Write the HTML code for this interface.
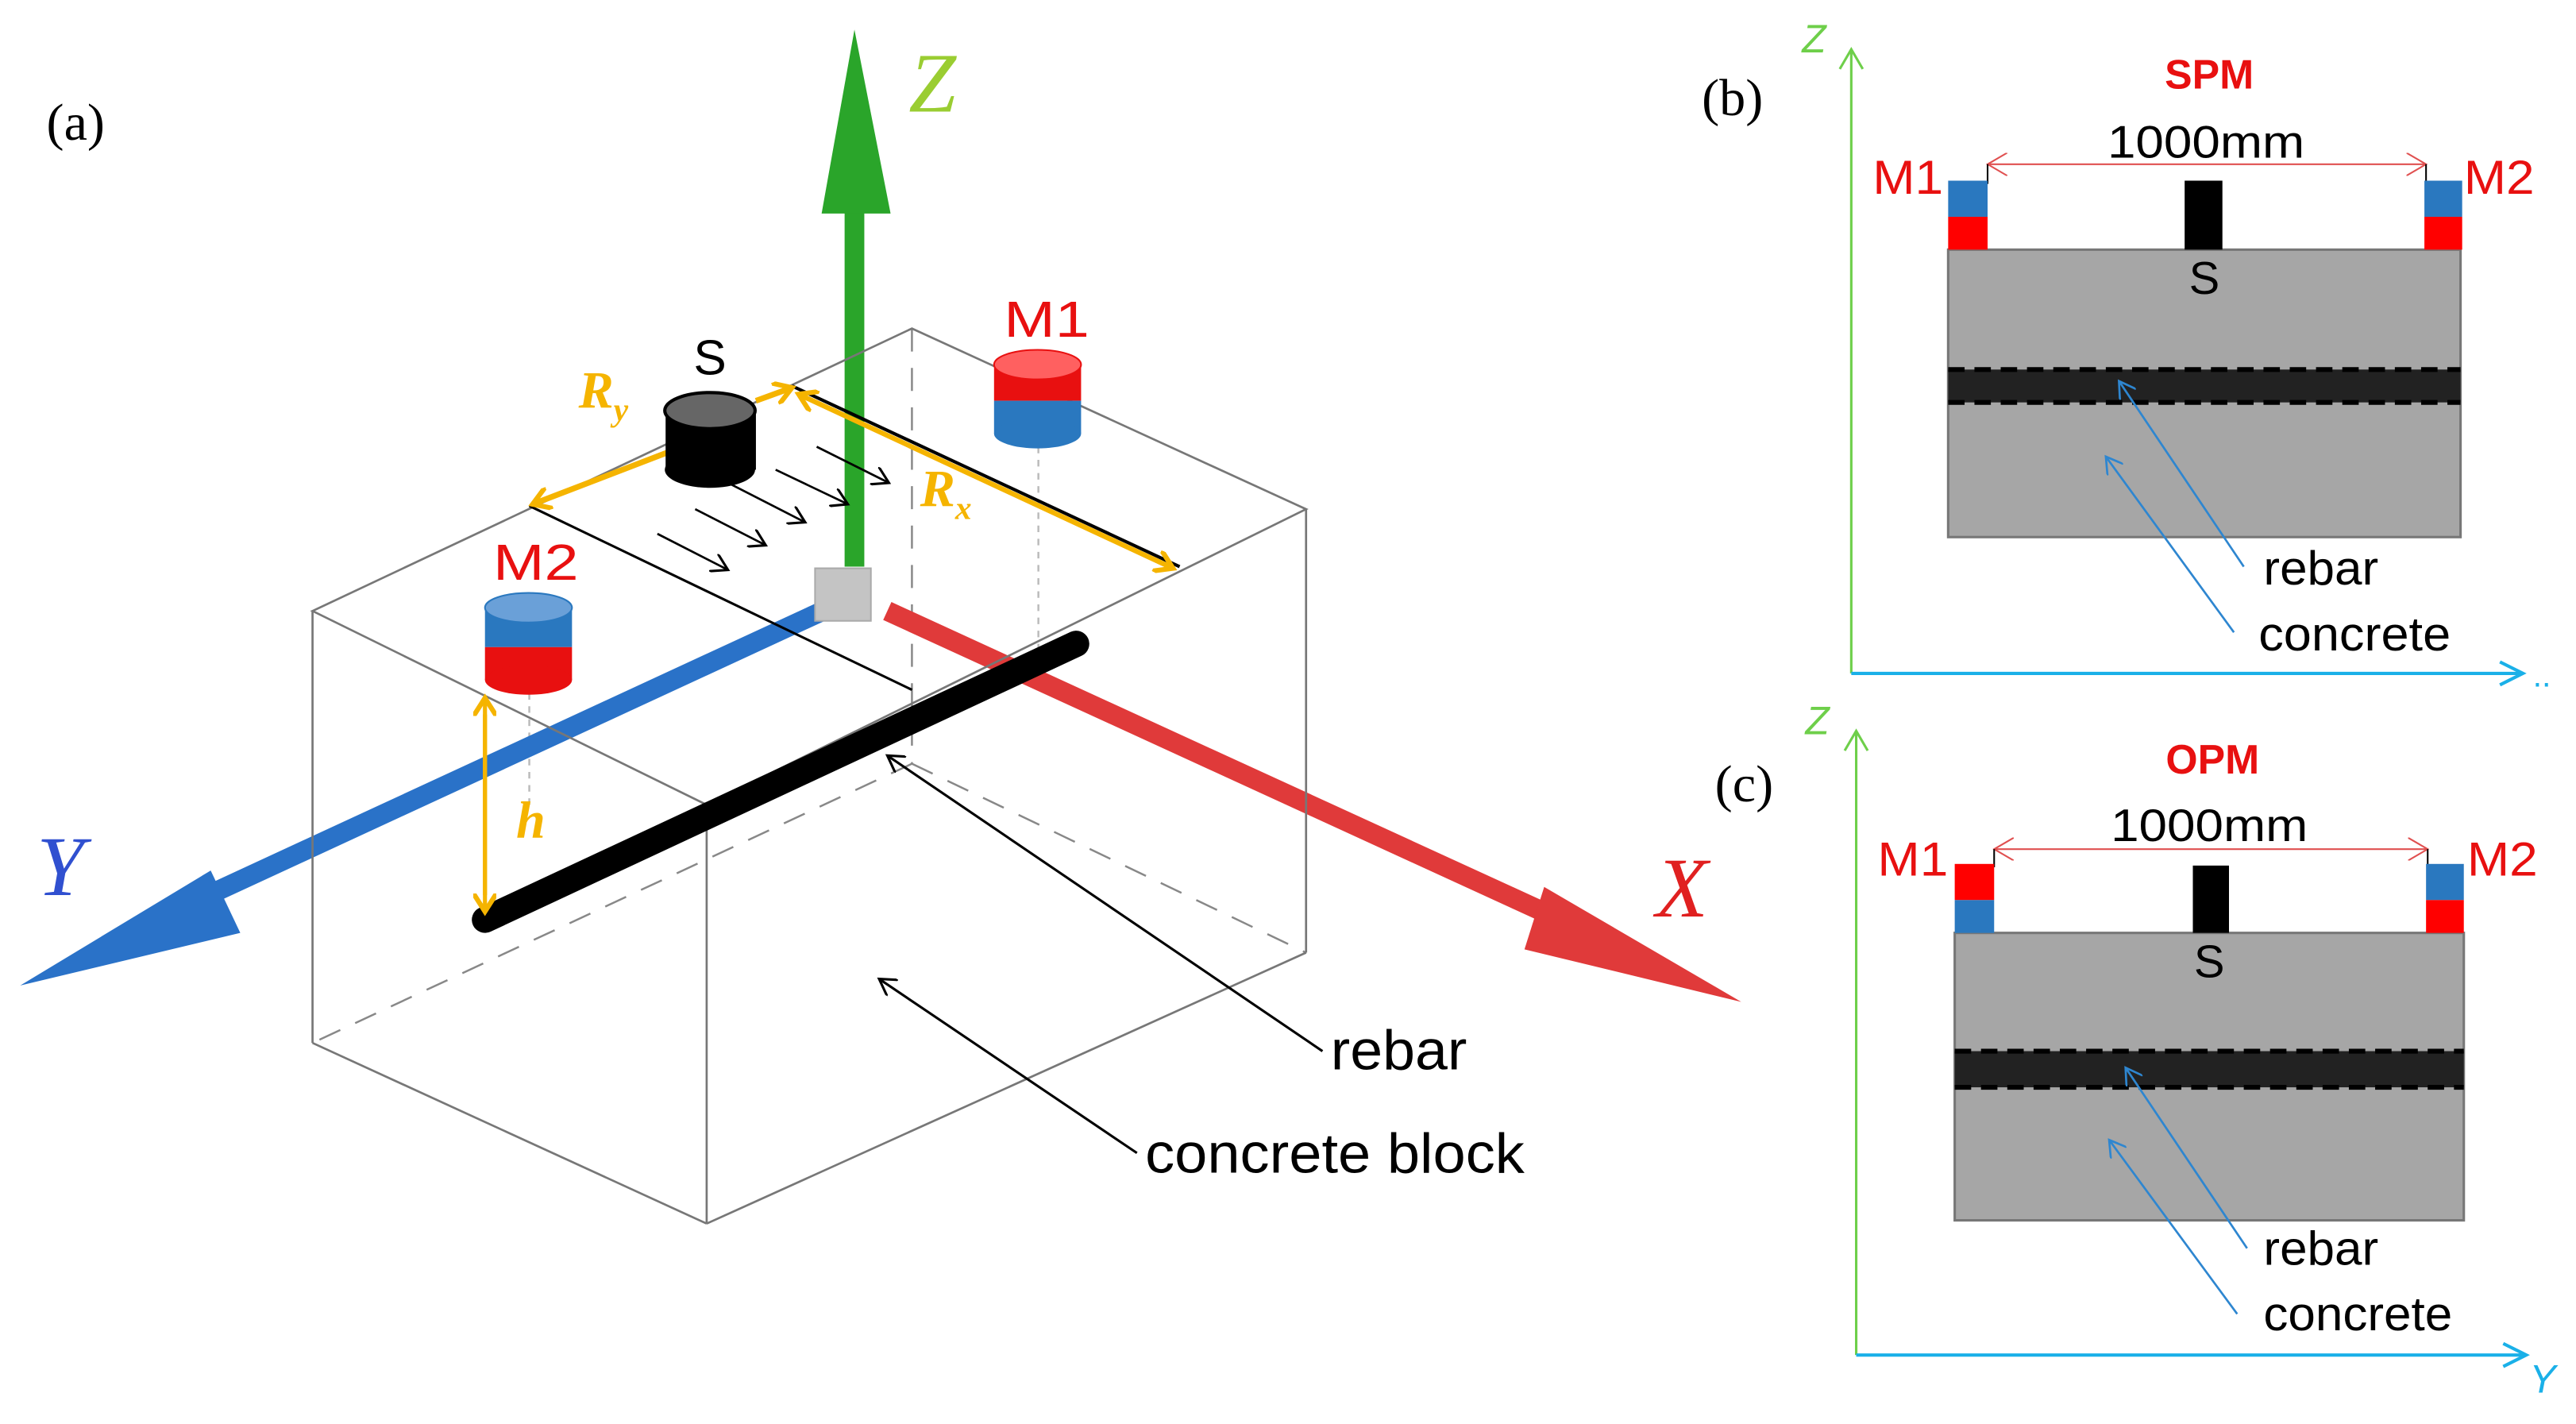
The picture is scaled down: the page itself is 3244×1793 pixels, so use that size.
<!DOCTYPE html>
<html><head><meta charset="utf-8"><style>html,body{margin:0;padding:0;background:#fff}svg{display:block}</style></head>
<body>
<svg width="3244" height="1793" viewBox="0 0 1568 867" xmlns="http://www.w3.org/2000/svg" font-family="Liberation Sans, sans-serif">
<defs>
<marker id="ak" markerWidth="12" markerHeight="12" refX="10" refY="6" orient="auto" markerUnits="userSpaceOnUse"><path d="M0,0 L10,6 L0,12" fill="none" stroke="#000" stroke-width="1.5"/></marker>
<marker id="ab" markerWidth="12" markerHeight="12" refX="10" refY="6" orient="auto" markerUnits="userSpaceOnUse"><path d="M0,0 L10,6 L0,12" fill="none" stroke="#2e86d0" stroke-width="1.3"/></marker>
<marker id="ao" markerWidth="14" markerHeight="14" refX="11" refY="7" orient="auto" markerUnits="userSpaceOnUse"><path d="M0,0 L11,7 L0,14" fill="none" stroke="#f5b400" stroke-width="3"/></marker>
<marker id="ar" markerWidth="14" markerHeight="14" refX="12" refY="7" orient="auto-start-reverse" markerUnits="userSpaceOnUse"><path d="M0,0 L12,7 L0,14" fill="none" stroke="#e05050" stroke-width="1"/></marker>
</defs>
<rect width="1568" height="867" fill="#fff"/>
<text x="28" y="85" font-family="Liberation Serif, serif" font-size="32">(a)</text>
<g stroke="#888" stroke-width="1.2" fill="none" stroke-dasharray="14,10">
<line x1="555" y1="200" x2="555" y2="465"/>
<line x1="555" y1="465" x2="190" y2="635"/>
<line x1="555" y1="465" x2="795" y2="580"/>
<line x1="632" y1="272" x2="632" y2="410" stroke-dasharray="4,4" stroke="#bbb"/>
<line x1="322" y1="422" x2="322" y2="490" stroke-dasharray="4,4" stroke="#bbb"/>
</g>
<line x1="540" y1="372" x2="950" y2="560" stroke="#e03a3a" stroke-width="12"/>
<polygon points="940,540 1060,610 928,578" fill="#e03a3a"/>
<line x1="505" y1="370" x2="120" y2="548" stroke="#2a72c8" stroke-width="12"/>
<polygon points="128,530 12,600 146,568" fill="#2a72c8"/>
<line x1="520" y1="345" x2="520" y2="120" stroke="#2aa52a" stroke-width="12"/>
<polygon points="500,130 520,18 542,130" fill="#2aa52a"/>
<rect x="496" y="346" width="34" height="32" fill="#c4c4c4" stroke="#aaa"/>
<text x="553" y="68" font-family="Liberation Serif, serif" font-style="italic" font-size="52" fill="#9acd32">Z</text>
<text x="22" y="545" font-family="Liberation Serif, serif" font-style="italic" font-size="52" fill="#3050d0">Y</text>
<text x="1008" y="558" font-family="Liberation Serif, serif" font-style="italic" font-size="52" fill="#e02020">X</text>
<g stroke="#777" stroke-width="1.3" fill="none">
<polygon points="190,372 555,200 795,310 430,490"/>
<line x1="190" y1="372" x2="190" y2="635"/>
<line x1="430" y1="490" x2="430" y2="745"/>
<line x1="795" y1="310" x2="795" y2="580"/>
<line x1="190" y1="635" x2="430" y2="745"/>
<line x1="430" y1="745" x2="795" y2="580"/>
</g>
<line x1="295" y1="560" x2="655" y2="392" stroke="#000" stroke-width="16" stroke-linecap="round"/>
<line x1="322" y1="308" x2="555" y2="420" stroke="#000" stroke-width="1.5"/>
<line x1="482" y1="235" x2="718" y2="345" stroke="#000" stroke-width="2"/>
<line x1="486" y1="240" x2="714" y2="346" stroke="#f5b400" stroke-width="3" marker-end="url(#ao)"/>
<line x1="714" y1="346" x2="486" y2="240" stroke="#f5b400" stroke-width="3" marker-end="url(#ao)"/>
<line x1="410" y1="274" x2="324" y2="307" stroke="#f5b400" stroke-width="3.5" marker-end="url(#ao)"/>
<line x1="460" y1="244" x2="482" y2="236" stroke="#f5b400" stroke-width="3.5" marker-end="url(#ao)"/>
<line x1="295" y1="435" x2="295" y2="555" stroke="#f5b400" stroke-width="2.5" marker-end="url(#ao)"/>
<line x1="295" y1="545" x2="295" y2="425" stroke="#f5b400" stroke-width="2.5" marker-end="url(#ao)"/>
<g stroke="#000" stroke-width="1.3" marker-end="url(#ak)">
<line x1="400" y1="325" x2="443" y2="347"/>
<line x1="423" y1="310" x2="466" y2="332"/>
<line x1="445" y1="295" x2="490" y2="318"/>
<line x1="472" y1="286" x2="516" y2="307"/>
<line x1="497" y1="272" x2="541" y2="294"/>
</g>
<g>
<rect x="405" y="250" width="55" height="36" fill="#000"/>
<ellipse cx="432" cy="286" rx="27.5" ry="11" fill="#000"/>
<ellipse cx="432" cy="250" rx="27.5" ry="11" fill="#666" stroke="#000" stroke-width="2"/>
<rect x="605" y="222" width="53" height="22" fill="#e81010"/>
<rect x="605" y="244" width="53" height="20" fill="#2a78bf"/>
<ellipse cx="631.5" cy="264" rx="26.5" ry="9" fill="#2a78bf"/>
<ellipse cx="631.5" cy="222" rx="26.5" ry="9" fill="#ff6060" stroke="#e81010"/>
<rect x="295" y="370" width="53" height="24" fill="#2a78bf"/>
<rect x="295" y="394" width="53" height="20" fill="#e81010"/>
<ellipse cx="321.5" cy="414" rx="26.5" ry="9" fill="#e81010"/>
<ellipse cx="321.5" cy="370" rx="26.5" ry="9" fill="#6aa0d8" stroke="#2a78bf"/>
</g>
<text x="432" y="228" font-size="30" text-anchor="middle">S</text>
<text x="611" y="205" font-size="31" fill="#e81010" textLength="52" lengthAdjust="spacingAndGlyphs">M1</text>
<text x="300" y="353" font-size="31" fill="#e81010" textLength="52" lengthAdjust="spacingAndGlyphs">M2</text>
<text x="352" y="248" font-family="Liberation Serif, serif" font-style="italic" font-weight="bold" font-size="32" fill="#f5b400">R<tspan font-size="20" dy="8">y</tspan></text>
<text x="560" y="308" font-family="Liberation Serif, serif" font-style="italic" font-weight="bold" font-size="32" fill="#f5b400">R<tspan font-size="20" dy="8">x</tspan></text>
<text x="314" y="510" font-family="Liberation Serif, serif" font-style="italic" font-weight="bold" font-size="32" fill="#f5b400">h</text>
<polyline points="805,640 540,460" fill="none" stroke="#000" stroke-width="1.5" marker-end="url(#ak)"/>
<polyline points="692,702 535,596" fill="none" stroke="#000" stroke-width="1.5" marker-end="url(#ak)"/>
<text x="810" y="651" font-size="34" textLength="83" lengthAdjust="spacingAndGlyphs">rebar</text>
<text x="697" y="714" font-size="34" textLength="231" lengthAdjust="spacingAndGlyphs">concrete block</text>

<text x="1036" y="70" font-family="Liberation Serif, serif" font-size="32">(b)</text>
<line x1="1127" y1="410" x2="1127" y2="30" stroke="#6ecf4a" stroke-width="1.5"/>
<path d="M1120,42 L1127,30 L1134,42" fill="none" stroke="#6ecf4a" stroke-width="1.5"/>
<text x="1097" y="32" font-size="24" fill="#6ecf4a" font-style="italic">Z</text>
<line x1="1127" y1="410" x2="1536" y2="410" stroke="#1ab0e8" stroke-width="2"/>
<path d="M1522,403 L1536,410 L1522,417" fill="none" stroke="#1ab0e8" stroke-width="2"/>
<text x="1542" y="418" font-size="20" fill="#1ab0e8">..</text>
<text x="1345" y="54" font-size="25" font-weight="bold" fill="#e81010" text-anchor="middle">SPM</text>
<text x="1283" y="96" font-size="28" textLength="120" lengthAdjust="spacingAndGlyphs">1000mm</text>
<line x1="1210" y1="100" x2="1477" y2="100" stroke="#e05050" stroke-width="1" marker-start="url(#ar)" marker-end="url(#ar)"/>
<line x1="1210" y1="100" x2="1210" y2="112" stroke="#000"/><line x1="1477" y1="100" x2="1477" y2="112" stroke="#000"/>
<text x="1140" y="118" font-size="29" fill="#e81010" textLength="43" lengthAdjust="spacingAndGlyphs">M1</text>
<text x="1500" y="118" font-size="29" fill="#e81010" textLength="43" lengthAdjust="spacingAndGlyphs">M2</text>
<rect x="1186" y="152" width="312" height="175" fill="#a6a6a6" stroke="#777" stroke-width="1.5"/>
<rect x="1186" y="225" width="312" height="20" fill="#222"/>
<line x1="1186" y1="225" x2="1498" y2="225" stroke="#000" stroke-width="3" stroke-dasharray="10,6"/>
<line x1="1186" y1="245" x2="1498" y2="245" stroke="#000" stroke-width="3" stroke-dasharray="10,6"/>
<rect x="1186" y="110" width="24" height="22" fill="#2a78bf"/><rect x="1186" y="132" width="24" height="20" fill="#ff0000"/>
<rect x="1476" y="110" width="23" height="22" fill="#2a78bf"/><rect x="1476" y="132" width="23" height="20" fill="#ff0000"/>
<rect x="1330" y="110" width="23" height="42" fill="#000"/>
<text x="1342" y="179" font-size="28" text-anchor="middle">S</text>
<line x1="1366" y1="345" x2="1290" y2="232" stroke="#2e86d0" stroke-width="1.3" marker-end="url(#ab)"/>
<line x1="1360" y1="385" x2="1282" y2="278" stroke="#2e86d0" stroke-width="1.3" marker-end="url(#ab)"/>
<text x="1378" y="356" font-size="29" textLength="70" lengthAdjust="spacingAndGlyphs">rebar</text>
<text x="1375" y="396" font-size="29" textLength="117" lengthAdjust="spacingAndGlyphs">concrete</text>

<text x="1044" y="488" font-family="Liberation Serif, serif" font-size="32">(c)</text>
<line x1="1130" y1="825" x2="1130" y2="445" stroke="#6ecf4a" stroke-width="1.5"/>
<path d="M1123,457 L1130,445 L1137,457" fill="none" stroke="#6ecf4a" stroke-width="1.5"/>
<text x="1099" y="447" font-size="24" fill="#6ecf4a" font-style="italic">Z</text>
<line x1="1130" y1="825" x2="1538" y2="825" stroke="#1ab0e8" stroke-width="2"/>
<path d="M1524,818 L1538,825 L1524,832" fill="none" stroke="#1ab0e8" stroke-width="2"/>
<text x="1540" y="848" font-size="24" fill="#1ab0e8" font-style="italic">Y</text>
<text x="1347" y="471" font-size="25" font-weight="bold" fill="#e81010" text-anchor="middle">OPM</text>
<text x="1285" y="512" font-size="28" textLength="120" lengthAdjust="spacingAndGlyphs">1000mm</text>
<line x1="1214" y1="517" x2="1478" y2="517" stroke="#e05050" stroke-width="1" marker-start="url(#ar)" marker-end="url(#ar)"/>
<line x1="1214" y1="517" x2="1214" y2="528" stroke="#000"/><line x1="1478" y1="517" x2="1478" y2="528" stroke="#000"/>
<text x="1143" y="533" font-size="29" fill="#e81010" textLength="43" lengthAdjust="spacingAndGlyphs">M1</text>
<text x="1502" y="533" font-size="29" fill="#e81010" textLength="43" lengthAdjust="spacingAndGlyphs">M2</text>
<rect x="1190" y="568" width="310" height="175" fill="#a6a6a6" stroke="#777" stroke-width="1.5"/>
<rect x="1190" y="640" width="310" height="22" fill="#222"/>
<line x1="1190" y1="640" x2="1500" y2="640" stroke="#000" stroke-width="3" stroke-dasharray="10,6"/>
<line x1="1190" y1="662" x2="1500" y2="662" stroke="#000" stroke-width="3" stroke-dasharray="10,6"/>
<rect x="1190" y="526" width="24" height="22" fill="#ff0000"/><rect x="1190" y="548" width="24" height="20" fill="#2a78bf"/>
<rect x="1477" y="526" width="23" height="22" fill="#2a78bf"/><rect x="1477" y="548" width="23" height="20" fill="#ff0000"/>
<rect x="1335" y="527" width="22" height="41" fill="#000"/>
<text x="1345" y="595" font-size="28" text-anchor="middle">S</text>
<line x1="1368" y1="760" x2="1294" y2="650" stroke="#2e86d0" stroke-width="1.3" marker-end="url(#ab)"/>
<line x1="1362" y1="800" x2="1284" y2="694" stroke="#2e86d0" stroke-width="1.3" marker-end="url(#ab)"/>
<text x="1378" y="770" font-size="29" textLength="70" lengthAdjust="spacingAndGlyphs">rebar</text>
<text x="1378" y="810" font-size="29" textLength="115" lengthAdjust="spacingAndGlyphs">concrete</text>
</svg>
</body></html>
